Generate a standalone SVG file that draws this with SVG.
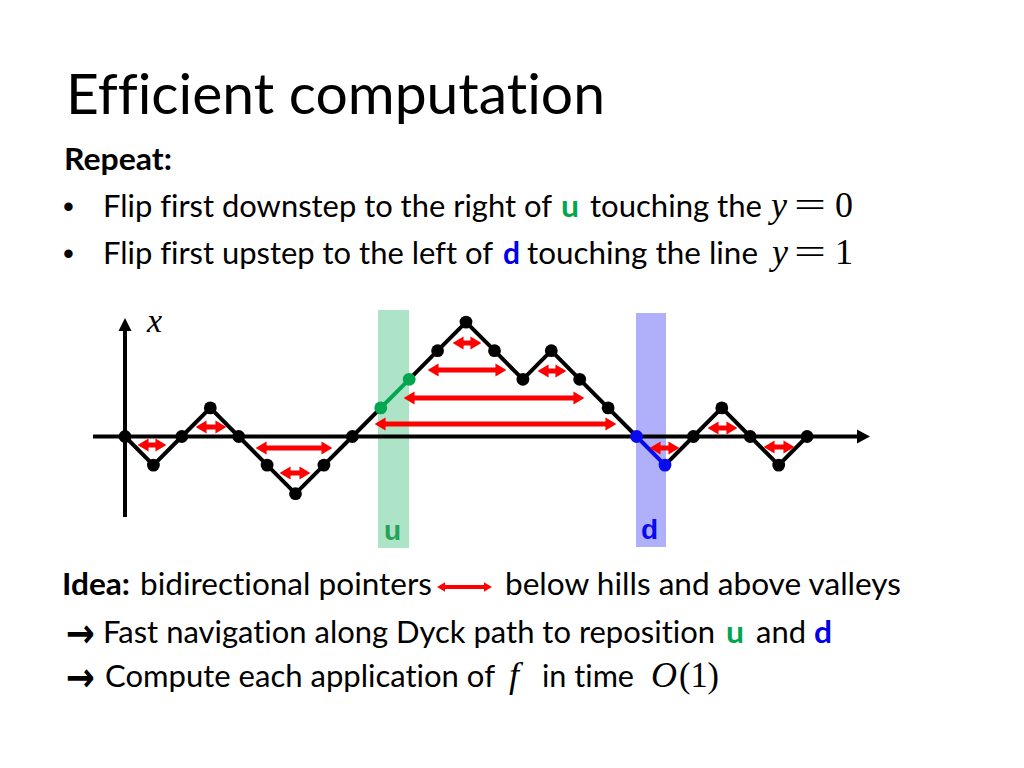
<svg xmlns="http://www.w3.org/2000/svg" width="1024" height="768" viewBox="0 0 1024 768">
<style>
.t{font-family:Lato,"Liberation Sans",sans-serif;font-size:31px;fill:#000;font-variant-ligatures:none;font-feature-settings:"liga" 0,"clig" 0,"dlig" 0}
.b{font-weight:bold}
.g{fill:#00a650}
.bl{fill:#0000ee}
.m{font-family:"Liberation Serif","DejaVu Serif",serif;font-size:36px;fill:#000}
.mi{font-style:italic}
.arr{font-family:"DejaVu Sans",sans-serif;font-weight:bold;font-size:40px;fill:#000}
.ax{stroke:#000;stroke-width:4;fill:none}
.path{stroke:#000;stroke-width:4;fill:none;stroke-linejoin:round}
.dot{fill:#000}
.gdot{fill:#00a650}
.bdot{fill:#0a0af0}
.ra{stroke:#ff0000;stroke-width:5;fill:none;marker-start:url(#ah);marker-end:url(#ah)}
.lab{font-family:"Liberation Sans",Arial,sans-serif;font-weight:bold;font-size:28px}
</style>
<defs>
<marker id="ah" viewBox="0 0 10 12" markerUnits="strokeWidth" markerWidth="2.2" markerHeight="2.64" refX="0.5" refY="6" orient="auto-start-reverse">
<path d="M0,0 L10,6 L0,12 Z" fill="#ff0000"/>
</marker>
</defs>
<rect width="1024" height="768" fill="#fff"/>

<text class="t" x="66" y="114" textLength="539" lengthAdjust="spacingAndGlyphs" style="font-size:56px">Efficient computation</text>
<text class="t b" x="64" y="170" textLength="108" lengthAdjust="spacingAndGlyphs">Repeat:</text>

<text class="t" x="63" y="217" style="font-family:'Liberation Sans',sans-serif">•</text>
<text class="t" x="103" y="217" textLength="449" lengthAdjust="spacingAndGlyphs">Flip first downstep to the right of</text>
<text class="t b g" x="561" y="217" textLength="18" lengthAdjust="spacingAndGlyphs">u</text>
<text class="t" x="590" y="217" textLength="172" lengthAdjust="spacingAndGlyphs">touching the</text>
<text class="m mi" x="771" y="217">y</text>
<text class="m" x="794" y="217" textLength="32" lengthAdjust="spacingAndGlyphs">=</text>
<text class="m" x="835" y="217">0</text>

<text class="t" x="63" y="264" style="font-family:'Liberation Sans',sans-serif">•</text>
<text class="t" x="103" y="264" textLength="390" lengthAdjust="spacingAndGlyphs">Flip first upstep to the left of</text>
<text class="t b bl" x="503" y="264" textLength="17" lengthAdjust="spacingAndGlyphs">d</text>
<text class="t" x="527" y="264" textLength="231" lengthAdjust="spacingAndGlyphs">touching the line</text>
<text class="m mi" x="772" y="264">y</text>
<text class="m" x="794" y="264" textLength="32" lengthAdjust="spacingAndGlyphs">=</text>
<text class="m" x="835" y="264">1</text>

<g id="bands">
<rect x="378" y="310" width="31" height="238" fill="#ade3c7"/>
<rect x="636" y="313" width="30" height="234" fill="#b0b0fa"/>
</g>

<g id="axes">
<line class="ax" x1="93" y1="436.5" x2="859" y2="436.5"/>
<polygon points="857,429.5 870,436.5 857,443.5" fill="#000"/>
<line class="ax" x1="125" y1="517" x2="125" y2="329"/>
<polygon points="118.5,331 125,318 131.5,331" fill="#000"/>
<text class="m mi" x="147" y="332" style="font-size:34px">x</text>
</g>

<g id="connectors">
<polyline class="path" points="125,436.5 153.4,465.1 181.8,436.5 210.3,407.9 238.7,436.5 267.1,465.1 295.5,493.7 323.9,465.1 352.4,436.5 380.8,407.9"/>
<line x1="380.8" y1="407.9" x2="409.2" y2="379.3" stroke="#00a650" stroke-width="4"/>
<polyline class="path" points="409.2,379.3 437.6,350.7 466,322.1 494.5,350.7 522.9,379.3 551.3,350.7 579.7,379.3 608.1,407.9 636.6,436.5"/>
<line x1="636.6" y1="436.5" x2="665" y2="465.1" stroke="#0a0af0" stroke-width="4"/>
<polyline class="path" points="665,465.1 693.4,436.5 721.8,407.9 750.2,436.5 778.7,465.1 807.1,436.5"/>
</g>

<g id="nodes">
<g id="n0"><circle class="dot" cx="125" cy="436.5" r="6.4"/></g>
<g id="n1"><circle class="dot" cx="153.4" cy="465.1" r="6.4"/></g>
<g id="n2"><circle class="dot" cx="181.8" cy="436.5" r="6.4"/></g>
<g id="n3"><circle class="dot" cx="210.3" cy="407.9" r="6.4"/></g>
<g id="n4"><circle class="dot" cx="238.7" cy="436.5" r="6.4"/></g>
<g id="n5"><circle class="dot" cx="267.1" cy="465.1" r="6.4"/></g>
<g id="n6"><circle class="dot" cx="295.5" cy="493.7" r="6.4"/></g>
<g id="n7"><circle class="dot" cx="323.9" cy="465.1" r="6.4"/></g>
<g id="n8"><circle class="dot" cx="352.4" cy="436.5" r="6.4"/></g>
<g id="n9"><circle class="gdot" cx="380.8" cy="407.9" r="6.4"/></g>
<g id="n10"><circle class="gdot" cx="409.2" cy="379.3" r="6.4"/></g>
<g id="n11"><circle class="dot" cx="437.6" cy="350.7" r="6.4"/></g>
<g id="n12"><circle class="dot" cx="466" cy="322.1" r="6.4"/></g>
<g id="n13"><circle class="dot" cx="494.5" cy="350.7" r="6.4"/></g>
<g id="n14"><circle class="dot" cx="522.9" cy="379.3" r="6.4"/></g>
<g id="n15"><circle class="dot" cx="551.3" cy="350.7" r="6.4"/></g>
<g id="n16"><circle class="dot" cx="579.7" cy="379.3" r="6.4"/></g>
<g id="n17"><circle class="dot" cx="608.1" cy="407.9" r="6.4"/></g>
<g id="n18"><circle class="bdot" cx="636.6" cy="436.5" r="6.4"/></g>
<g id="n19"><circle class="bdot" cx="665" cy="465.1" r="6.4"/></g>
<g id="n20"><circle class="dot" cx="693.4" cy="436.5" r="6.4"/></g>
<g id="n21"><circle class="dot" cx="721.8" cy="407.9" r="6.4"/></g>
<g id="n22"><circle class="dot" cx="750.2" cy="436.5" r="6.4"/></g>
<g id="n23"><circle class="dot" cx="778.7" cy="465.1" r="6.4"/></g>
<g id="n24"><circle class="dot" cx="807.1" cy="436.5" r="6.4"/></g>
</g>

<g id="pointers">
<line class="ra" x1="148" y1="445" x2="156" y2="445"/>
<line class="ra" x1="206" y1="427" x2="216" y2="427"/>
<line class="ra" x1="266" y1="448" x2="322" y2="448"/>
<line class="ra" x1="290" y1="473" x2="300" y2="473"/>
<line class="ra" x1="385" y1="424" x2="606" y2="424"/>
<line class="ra" x1="414" y1="398" x2="574" y2="398"/>
<line class="ra" x1="438" y1="370" x2="496" y2="370"/>
<line class="ra" x1="463" y1="343" x2="471" y2="343"/>
<line class="ra" x1="548" y1="371" x2="556" y2="371"/>
<line class="ra" x1="660" y1="448" x2="669" y2="448"/>
<line class="ra" x1="718" y1="428" x2="727" y2="428"/>
<line class="ra" x1="774" y1="447" x2="784" y2="447"/>
</g>

<g id="labels">
<text class="lab" x="384" y="540" fill="#22a355">u</text>
<text class="lab" x="641" y="539" fill="#0a0af0">d</text>
</g>

<text class="t b" x="62" y="595" textLength="68" lengthAdjust="spacingAndGlyphs">Idea:</text>
<text class="t" x="140" y="595" textLength="292" lengthAdjust="spacingAndGlyphs">bidirectional pointers</text>
<line class="ra" x1="445" y1="587" x2="484" y2="587" style="stroke-width:3.8"/>
<text class="t" x="505" y="595" textLength="396" lengthAdjust="spacingAndGlyphs">below hills and above valleys</text>

<text class="arr" x="66" y="647" textLength="29" lengthAdjust="spacingAndGlyphs">→</text>
<text class="t" x="103" y="643" textLength="612" lengthAdjust="spacingAndGlyphs">Fast navigation along Dyck path to reposition</text>
<text class="t b g" x="726" y="643" textLength="18" lengthAdjust="spacingAndGlyphs">u</text>
<text class="t" x="756" y="643" textLength="50" lengthAdjust="spacingAndGlyphs">and</text>
<text class="t b bl" x="814" y="643" textLength="18" lengthAdjust="spacingAndGlyphs">d</text>

<text class="arr" x="66" y="691" textLength="29" lengthAdjust="spacingAndGlyphs">→</text>
<text class="t" x="105" y="687" textLength="390" lengthAdjust="spacingAndGlyphs">Compute each application of</text>
<text class="m mi" x="509" y="687">f</text>
<text class="t" x="542" y="687" textLength="92" lengthAdjust="spacingAndGlyphs">in time</text>
<text class="m mi" x="651" y="687">O</text>
<text class="m" x="679" y="687" textLength="40" lengthAdjust="spacingAndGlyphs">(1)</text>
</svg>
